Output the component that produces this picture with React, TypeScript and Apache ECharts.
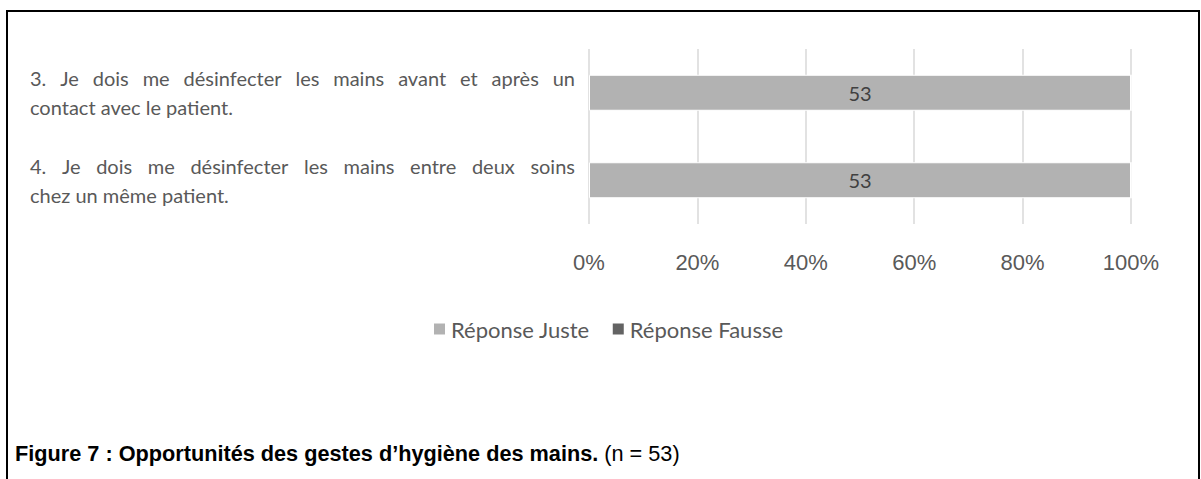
import React, { useEffect, useRef } from "react";
import * as echarts from "echarts";

const categories = [
  "3. Je dois me désinfecter les mains avant et après un\ncontact avec le patient.",
  "4. Je dois me désinfecter les mains entre deux soins\nchez un même patient.",
];
const seriesNames = ["Réponse Juste", "Réponse Fausse"];
const justeCounts = [53, 53];
const fausseCounts = [0, 0];
const xTickMin = 0;
const xTickMax = 100;
const xTickStep = 20;
const captionBold = "Figure 7 : Opportunités des gestes d’hygiène des mains.";
const captionNormal = " (n = 53)";

const CAT_FONT = "Lato";
const CAT_SIZE = 20;
const LINE_H = 29;
const LABEL_LEFT = 30;
const JUSTIFY_WIDTH = 545;

export default function App() {
  const ref = useRef<HTMLDivElement>(null);
  useEffect(() => {
    document.body.style.margin = "0";
    const chart = echarts.init(ref.current!, null, { renderer: "svg" });

    const canvas = document.createElement("canvas");
    const ctx = canvas.getContext("2d")!;
    ctx.font = `${CAT_SIZE}px ${CAT_FONT}`;

    const rich: Record<string, any> = {
      w: { fontFamily: CAT_FONT, fontSize: CAT_SIZE, color: "#595959", lineHeight: LINE_H },
    };
    const formatted: Record<string, string> = {};
    categories.forEach((cat, ci) => {
      const lines = cat.split("\n");
      const out = lines.map((line, li) => {
        const words = line.split(" ");
        if (li === lines.length - 1 || words.length < 2) {
          return `{w|${line}}`;
        }
        const sum = words.reduce((s, w) => s + ctx.measureText(w).width, 0);
        const gap = (JUSTIFY_WIDTH - sum) / (words.length - 1);
        const key = `g${ci}_${li}`;
        rich[key] = { fontFamily: CAT_FONT, fontSize: CAT_SIZE, lineHeight: LINE_H, width: gap };
        return words.map((w) => `{w|${w}}`).join(`{${key}| }`);
      });
      formatted[cat] = out.join("\n");
    });

    const grid = { left: 589, right: 70, top: 49, height: 175 };

    const pct = (a: number, b: number) => (a + b === 0 ? 0 : (a / (a + b)) * 100);

    chart.setOption({
      animation: false,
      backgroundColor: "#ffffff",
      grid,
      legend: {
        left: 427,
        top: 313,
        icon: "rect",
        itemWidth: 13,
        itemHeight: 13,
        itemGap: 21,
        textStyle: { fontFamily: CAT_FONT, fontSize: 22, color: "#595959" },
        data: seriesNames,
      },
      title: {
        left: 10,
        top: 437,
        text: `{b|${captionBold}}{n|${captionNormal}}`,
        textStyle: {
          fontWeight: "normal",
          rich: {
            b: { fontFamily: "Liberation Sans", fontWeight: "bold", fontSize: 21.7, color: "#000" },
            n: { fontFamily: "Liberation Sans", fontWeight: "normal", fontSize: 21.7, color: "#000" },
          },
        },
      },
      xAxis: {
        type: "value",
        min: xTickMin,
        max: xTickMax,
        interval: xTickStep,
        axisLine: { show: false },
        axisTick: { show: false },
        splitLine: { lineStyle: { color: "#d9d9d9", width: 1.5 } },
        axisLabel: {
          formatter: "{value}%",
          fontFamily: "Liberation Sans",
          fontSize: 22,
          color: "#595959",
          margin: 27,
        },
      },
      yAxis: {
        type: "category",
        inverse: true,
        data: categories,
        axisLine: { show: false },
        axisTick: { show: false },
        axisLabel: {
          align: "left",
          margin: 589 - LABEL_LEFT,
          formatter: (v: string) => formatted[v],
          rich,
        },
      },
      series: [
        {
          name: seriesNames[0],
          type: "bar",
          stack: "total",
          barWidth: 36,
          itemStyle: { color: "#b2b2b2", borderColor: "#ffffff", borderWidth: 1 },
          label: {
            show: true,
            position: "inside",
            formatter: (p: any) => (p.data.count > 0 ? String(p.data.count) : ""),
            fontFamily: CAT_FONT,
            fontSize: CAT_SIZE,
            color: "#404040",
          },
          data: justeCounts.map((c, i) => ({ value: pct(c, fausseCounts[i]), count: c })),
        },
        {
          name: seriesNames[1],
          type: "bar",
          stack: "total",
          barWidth: 36,
          itemStyle: { color: "#636363", borderColor: "#ffffff", borderWidth: 1 },
          label: {
            show: true,
            position: "inside",
            formatter: (p: any) => (p.data.count > 0 ? String(p.data.count) : ""),
            fontFamily: CAT_FONT,
            fontSize: CAT_SIZE,
            color: "#ffffff",
          },
          data: fausseCounts.map((c, i) => ({ value: pct(c, justeCounts[i]), count: c })),
        },
      ],
      graphic: [
        {
          type: "polyline",
          silent: true,
          shape: { points: [[7, 479], [7, 11], [1199, 11], [1199, 479]] },
          style: { stroke: "#000", lineWidth: 2, fill: "none" },
        },
      ],
    });
    return () => chart.dispose();
  }, []);
  return (
    <div
      ref={ref}
      style={{ position: "absolute", left: 0, top: 0, width: 1201, height: 479 }}
    />
  );
}
